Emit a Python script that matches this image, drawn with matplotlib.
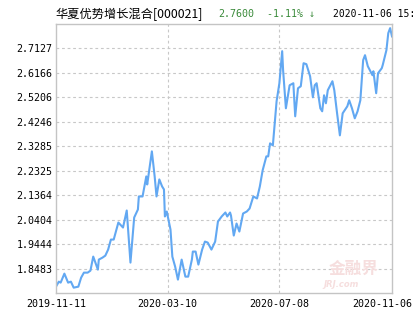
import numpy as np
import pandas as pd
import matplotlib
matplotlib.use('Agg')
from matplotlib import pyplot as plt
from matplotlib.transforms import ScaledTranslation

fund_name = '华夏优势增长混合[000021]'
last_nav = '2.7600'
last_chg = '-1.11% ↓'
last_time = '2020-11-06 15:'

dates = ['2019-11-11', '2019-11-14', '2019-11-16', '2019-11-20', '2019-11-24', '2019-11-27',
         '2019-11-30', '2019-12-05', '2019-12-08', '2019-12-11', '2019-12-15', '2019-12-18',
         '2019-12-21', '2019-12-23', '2019-12-26', '2019-12-27', '2019-12-31', '2020-01-03',
         '2020-01-06', '2020-01-09', '2020-01-12', '2020-01-17', '2020-01-22', '2020-01-26',
         '2020-01-30', '2020-02-03', '2020-02-07', '2020-02-08', '2020-02-12', '2020-02-16',
         '2020-02-17', '2020-02-22', '2020-02-25', '2020-02-27', '2020-03-01', '2020-03-04',
         '2020-03-06', '2020-03-07', '2020-03-09', '2020-03-13', '2020-03-15', '2020-03-18',
         '2020-03-21', '2020-03-25', '2020-03-29', '2020-04-01', '2020-04-05', '2020-04-06',
         '2020-04-09', '2020-04-12', '2020-04-16', '2020-04-19', '2020-04-22', '2020-04-26',
         '2020-04-30', '2020-05-03', '2020-05-07', '2020-05-11', '2020-05-13', '2020-05-16',
         '2020-05-17', '2020-05-20', '2020-05-23', '2020-05-26', '2020-05-30', '2020-06-03',
         '2020-06-06', '2020-06-10', '2020-06-14', '2020-06-17', '2020-06-20', '2020-06-24',
         '2020-06-26', '2020-06-28', '2020-07-01', '2020-07-03', '2020-07-05', '2020-07-08',
         '2020-07-11', '2020-07-12', '2020-07-15', '2020-07-19', '2020-07-23', '2020-07-25',
         '2020-07-28', '2020-07-31', '2020-08-03', '2020-08-06', '2020-08-10', '2020-08-13',
         '2020-08-15', '2020-08-17', '2020-08-21', '2020-08-23', '2020-08-25', '2020-08-27',
         '2020-08-29', '2020-09-03', '2020-09-05', '2020-09-08', '2020-09-11', '2020-09-14',
         '2020-09-19', '2020-09-21', '2020-09-24', '2020-09-27', '2020-09-30', '2020-10-03',
         '2020-10-06', '2020-10-08', '2020-10-11', '2020-10-16', '2020-10-17', '2020-10-20',
         '2020-10-22', '2020-10-26', '2020-10-27', '2020-10-31', '2020-11-02', '2020-11-04',
         '2020-11-06']

nav = [1.7771, 1.7968, 1.7929, 1.8283, 1.7929, 1.7968,
       1.7732, 1.7771, 1.8125, 1.8322, 1.8322, 1.8400,
       1.8952, 1.8750, 1.8440, 1.8834, 1.8913, 1.8990,
       1.9227, 1.9621, 1.9621, 2.0290, 2.0093, 2.0762,
       1.8716, 2.0487, 2.0802, 2.1314, 2.1314, 2.2101,
       2.1786, 2.3085, 2.2101, 2.1314, 2.1983, 2.1707,
       2.1589, 2.0527, 2.0723, 2.0015, 1.8952, 1.8558,
       1.8047, 1.8834, 1.8165, 1.8165, 1.8834, 1.9149,
       1.9149, 1.8637, 1.9227, 1.9542, 1.9503, 1.9227,
       1.9542, 2.0330, 2.0527, 2.0684, 2.0527, 2.0684,
       2.0566, 1.9778, 2.0251, 1.9936, 2.0645, 2.0723,
       2.0841, 2.1314, 2.1235, 2.1707, 2.2337, 2.2888,
       2.2888, 2.3400, 2.3321, 2.4187, 2.5053, 2.5761,
       2.7021, 2.6273, 2.4777, 2.5682, 2.5761, 2.4462,
       2.5564, 2.5643, 2.6548, 2.6510, 2.6037, 2.5210,
       2.5682, 2.5761, 2.4777, 2.4659, 2.5289, 2.4974,
       2.5486, 2.5840, 2.5486, 2.4580, 2.3714, 2.4580,
       2.4856, 2.5092, 2.4777, 2.4384, 2.4659, 2.5092,
       2.6667, 2.6863, 2.6430, 2.6076, 2.6233, 2.5368,
       2.6155, 2.6351, 2.6470, 2.7060, 2.7729, 2.7926,
       2.7600]

y_ticks = [1.8483, 1.9444, 2.0404, 2.1364, 2.2325, 2.3285, 2.4246, 2.5206, 2.6166, 2.7127]
y_min, y_max = 1.7522, 2.8088
x_ticks = ['2019-11-11', '2020-03-10', '2020-07-08', '2020-11-06']

x = pd.to_datetime(dates)
xt = pd.to_datetime(x_ticks)

fig = plt.figure(figsize=(4.15, 3.3), dpi=100)
ax = fig.add_axes([56/415, 1-293/330, 336/415, 269/330])

ax.plot(x, nav, color='#62a8f2', lw=1.5, solid_joinstyle='round')

ax.set_xlim(xt[0], xt[-1])
ax.set_ylim(y_min, y_max)
ax.set_yticks(y_ticks)
ax.set_yticklabels(['%.4f' % v for v in y_ticks], family='DejaVu Sans Mono', fontsize=7.2)
ax.set_xticks(xt)
ax.set_xticklabels(x_ticks, family='DejaVu Sans Mono', fontsize=7.2)
ax.tick_params(length=0, pad=2.5, colors='black')
ax.tick_params(axis='x', pad=4)
lbl = ax.get_xticklabels()[-1]
lbl.set_transform(lbl.get_transform() + ScaledTranslation(-0.1, 0, fig.dpi_scale_trans))

for v in y_ticks:
    ax.axhline(v, color='#c8c8c8', lw=0.8, ls=(0, (2.5, 2.5)), zorder=0)
for d in xt[1:-1]:
    ax.axvline(d, color='#c8c8c8', lw=0.8, ls=(0, (2.5, 2.5)), zorder=0)
for s in ax.spines.values():
    s.set_color('#c4c4c4')
    s.set_linewidth(1)

# watermark
ax.text(0.96, 0.055, '金融界', transform=ax.transAxes, ha='right', va='bottom',
        fontsize=12, color='#f6dede', family=['Noto Sans CJK SC', 'DejaVu Sans'], weight='bold', zorder=0)
ax.text(0.90, 0.015, 'JRJ.com', transform=ax.transAxes, ha='right', va='bottom',
        fontsize=6, color='#f6dede', style='italic', weight='bold', zorder=0)

ty = 1 - 14/330
fig.text(55/415, ty, fund_name, ha='left', va='center', fontsize=8.8,
         family=['Noto Sans CJK SC', 'DejaVu Sans'], color='black')
fig.text(218/415, ty, last_nav, ha='left', va='center', fontsize=7.2,
         family='DejaVu Sans Mono', color='#3a8a3a')
fig.text(267/415, ty, last_chg, ha='left', va='center', fontsize=7.2,
         family='DejaVu Sans Mono', color='#3a8a3a')
fig.text(333/415, ty, last_time, ha='left', va='center', fontsize=7.0,
         family='DejaVu Sans Mono', color='black')

fig.savefig('out.png', dpi=100)
